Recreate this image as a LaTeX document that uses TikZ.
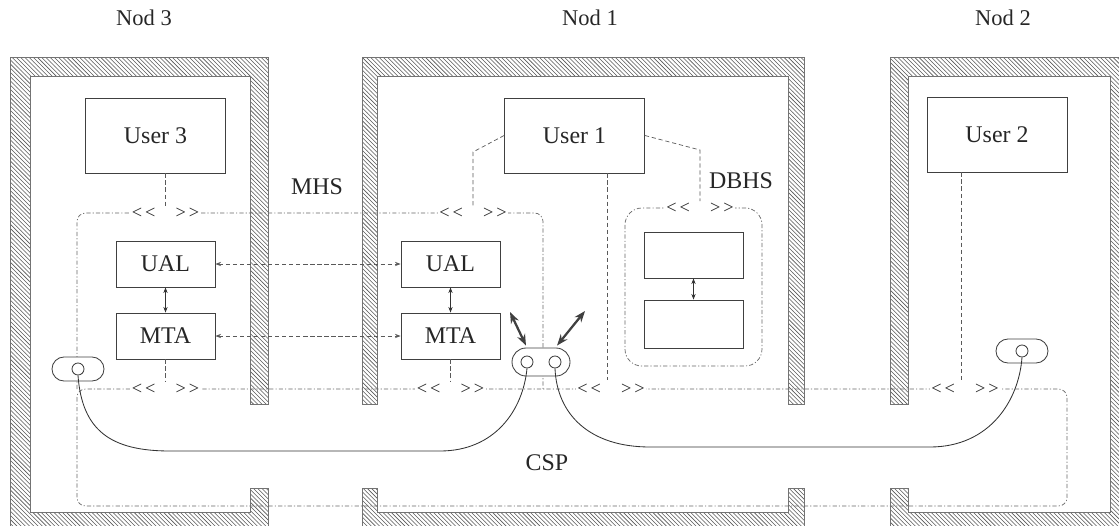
\documentclass[tikz,border=0pt]{standalone}
\usepackage{fontspec}
\setmainfont{Liberation Serif}
\usetikzlibrary{arrows.meta,calc,patterns,shapes.misc}
\newcommand{\gates}{<\,<\hspace{1.1em}>\,>}

\begin{document}
\begin{tikzpicture}[x=0.25mm, y=-0.25mm, >={Stealth[length=4pt,width=3pt]},
  font=\fontsize{17}{20}\selectfont, text=black!85,
  wall/.style={pattern=north west lines, pattern color=black!65, draw=black!55, line width=0.3pt},
  region/.style={draw=black!60, line width=0.5pt, dash pattern=on 3pt off 1.5pt on 0.8pt off 1.5pt, rounded corners=6pt},
  dashline/.style={draw=black!65, line width=0.5pt, dash pattern=on 3pt off 2pt},
  box/.style={draw=black!75, line width=0.6pt, minimum width=24.75mm, minimum height=11.5mm},
  userbox/.style={box, minimum width=35mm, minimum height=18.75mm},
  marker/.style={fill=white, inner sep=1pt, font=\fontsize{13}{14}\selectfont},
  capsule/.style={draw=black!75, line width=0.6pt, rounded rectangle, fill=white, minimum width=13mm, minimum height=6mm, inner sep=0pt},
  hole/.style={draw=black!75, line width=0.6pt, circle, minimum size=3mm, inner sep=0pt},
  link/.style={draw=black!80, line width=0.6pt},
  bigarrow/.style={{Stealth[length=8pt,width=6pt]}-{Stealth[length=8pt,width=6pt]}, line width=1.6pt, draw=black!75}]
  \useasboundingbox (0,0) rectangle (1119,526);

  % walls of the three nodes
  \path[wall] (10,57) -- (268,57) -- (268,404) -- (250,404) -- (250,76) -- (30,76) -- (30,512) -- (250,512) -- (250,488) -- (268,488) -- (268,526) -- (10,526) -- cycle;
  \path[wall] (362,57) -- (804,57) -- (804,404) -- (788,404) -- (788,76) -- (377,76) -- (377,404) -- (362,404) -- cycle;
  \path[wall] (362,488) -- (377,488) -- (377,512) -- (788,512) -- (788,488) -- (804,488) -- (804,526) -- (362,526) -- cycle;
  \path[wall] (890,57) -- (1119,57) -- (1119,526) -- (890,526) -- (890,488) -- (908,488) -- (908,512) -- (1110,512) -- (1110,76) -- (908,76) -- (908,404) -- (890,404) -- cycle;

  \node[font=\fontsize{16}{18}\selectfont] (nod3) at (144,18) {Nod 3};
  \node[font=\fontsize{16}{18}\selectfont] (nod1) at (590,18) {Nod 1};
  \node[font=\fontsize{16}{18}\selectfont] (nod2) at (1003,18) {Nod 2};

  % service regions
  \draw[region] (77,389) -- (77,213) -- (543,213) -- (543,389);
  \draw[region] (77,389) rectangle (1067,506);
  \draw[region, rounded corners=12pt] (625,208) rectangle (762,366);

  \node[marker] (mk3t) at (165.5,213) {\gates};
  \node[marker] (mk1t) at (473,213) {\gates};
  \node[marker] (mkdb) at (700,208) {\gates};
  \node[marker] (mk3b) at (165.5,389) {\gates};
  \node[marker] (mk1b) at (450.5,389) {\gates};
  \node[marker] (mk1c) at (611,389) {\gates};
  \node[marker] (mk2b) at (965,389) {\gates};

  \node (mhs) at (317,187) {MHS};
  \node (dbhs) at (741,181) {DBHS};
  \node (csp) at (547,463) {CSP};

  % users and agents
  \node[userbox] (user3) at (155.5,135.5) {User 3};
  \node[userbox] (user1) at (574.5,135.5) {User 1};
  \node[userbox] (user2) at (997,134.5) {User 2};
  \node[box] (ual3) at (165.5,264) {UAL};
  \node[box] (mta3) at (165.5,336) {MTA};
  \node[box] (ual1) at (450.5,264) {UAL};
  \node[box] (mta1) at (450.5,336) {MTA};
  \node[box] (dbtop) at (693.5,255) {};
  \node[box, minimum height=12mm] (dbbot) at (693.5,324) {};

  % ports
  \node[capsule] (cap3) at (78,369) {};
  \node[hole] (hole3) at (78,369) {};
  \node[capsule, minimum width=14.5mm, minimum height=7mm] (cap1) at (541,362) {};
  \node[hole] (hole1a) at (527,362) {};
  \node[hole] (hole1b) at (555,362) {};
  \node[capsule] (cap2) at (1022,351) {};
  \node[hole] (hole2) at (1022,351) {};

  \coordinate (bendl) at (473,152);
  \coordinate (bendr) at (700,150);
  \coordinate (end1) at (607,380);
  \coordinate (end2) at (961,380);
  \draw[dashline] (user3.south -| mk3t) -- (mk3t.north);
  \draw[dashline] (user1.west) -- (bendl) -- (mk1t.north);
  \draw[dashline] (user1.east) -- (bendr) -- (mkdb.north);
  \draw[dashline] (user1.south -| end1) -- (end1);
  \draw[dashline] (user2.south -| end2) -- (end2);
  \draw[dashline] (mta3.south) -- (mk3b.north);
  \draw[dashline] (mta1.south) -- (mk1b.north);

  \draw[dashline, <->] (ual3) -- (ual1);
  \draw[dashline, <->] (mta3) -- (mta1);
  \draw[link, <->] (ual3) -- (mta3);
  \draw[link, <->] (ual1) -- (mta1);
  \draw[link, <->] (dbtop) -- (dbbot);

  \coordinate (tipl) at (510,312);
  \coordinate (tipr) at (585,311);
  \draw[bigarrow] ($(cap1.north)+(-15,-2)$) -- (tipl);
  \draw[bigarrow] ($(cap1.north)+(16,-2)$) -- (tipr);

  % circuit lines
  \draw[link] (hole3.south) .. controls (82,430) and (110,451) .. (170,451) -- (440,451) .. controls (495,451) and (523,410) .. (hole1a.south);
  \draw[link] (hole1b.south) .. controls (557,415) and (590,447) .. (650,447) -- (930,447) .. controls (990,447) and (1019,400) .. (hole2.south);
\end{tikzpicture}
\end{document}
